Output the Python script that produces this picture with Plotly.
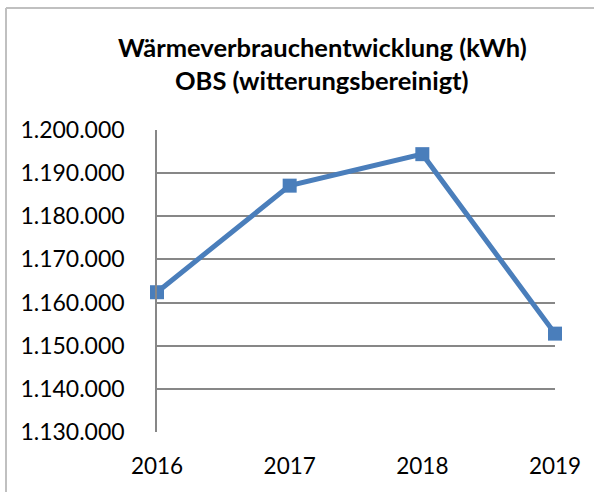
import plotly.graph_objects as go

years = [2016, 2017, 2018, 2019]
year_labels = ["2016", "2017", "2018", "2019"]
values = [1162400, 1187100, 1194400, 1152800]
y_ticks = [1130000, 1140000, 1150000, 1160000, 1170000, 1180000, 1190000, 1200000]
title_line1 = "Wärmeverbrauchentwicklung (kWh)"
title_line2 = "OBS (witterungsbereinigt)"

L, R, T, B = 157, 40, 130, 61
W, H = 595, 493
pw, ph = W - L - R, H - T - B

def px(x):
    return (x - L) / pw

def py(y):
    return (H - B - y) / ph

fig = go.Figure()
fig.add_trace(go.Scatter(
    x=years, y=values, mode="lines+markers",
    line=dict(color="#4A7EBB", width=5),
    marker=dict(symbol="square", size=14, color="#4A7EBB"),
    cliponaxis=False, showlegend=False,
))

font_family = "Lato, Open Sans, sans-serif"

fig.update_layout(
    width=W, height=H,
    margin=dict(l=L, r=R, t=T, b=B, pad=0),
    paper_bgcolor="white", plot_bgcolor="white",
    separators=",.",
    font=dict(family=font_family, color="#000000"),
    xaxis=dict(
        range=[2016, 2019], tickvals=years, ticktext=year_labels,
        showgrid=False, zeroline=False, showline=False,
        ticks="", tickfont=dict(size=22.5), ticklabelstandoff=18,
    ),
    yaxis=dict(
        range=[1130000, 1200000], tickvals=y_ticks, tickformat=",d",
        showgrid=True, gridcolor="#878787", gridwidth=1.5,
        zeroline=False, showline=True, linecolor="#878787", linewidth=1.5,
        ticks="", tickfont=dict(size=23), ticklabelstandoff=26,
    ),
    annotations=[
        dict(text="<b>" + title_line1 + "</b>", xref="paper", yref="paper",
             x=px(322), y=py(47), xanchor="center", yanchor="middle",
             showarrow=False, font=dict(size=25.5, family=font_family)),
        dict(text="<b>" + title_line2 + "</b>", xref="paper", yref="paper",
             x=px(322), y=py(80), xanchor="center", yanchor="middle",
             showarrow=False, font=dict(size=25.5, family=font_family)),
    ],
    shapes=[
        dict(type="line", xref="paper", yref="paper", x0=px(6), x1=px(594),
             y0=py(8), y1=py(8), layer="above", line=dict(color="#C0C0C0", width=2)),
        dict(type="line", xref="paper", yref="paper", x0=px(6), x1=px(6),
             y0=py(8), y1=py(492), layer="above", line=dict(color="#C0C0C0", width=2)),
    ],
)

fig.write_html(
    "out.html",
    config={"displayModeBar": False},
    post_script="document.body.style.margin='0';document.body.style.overflow='hidden';",
)
